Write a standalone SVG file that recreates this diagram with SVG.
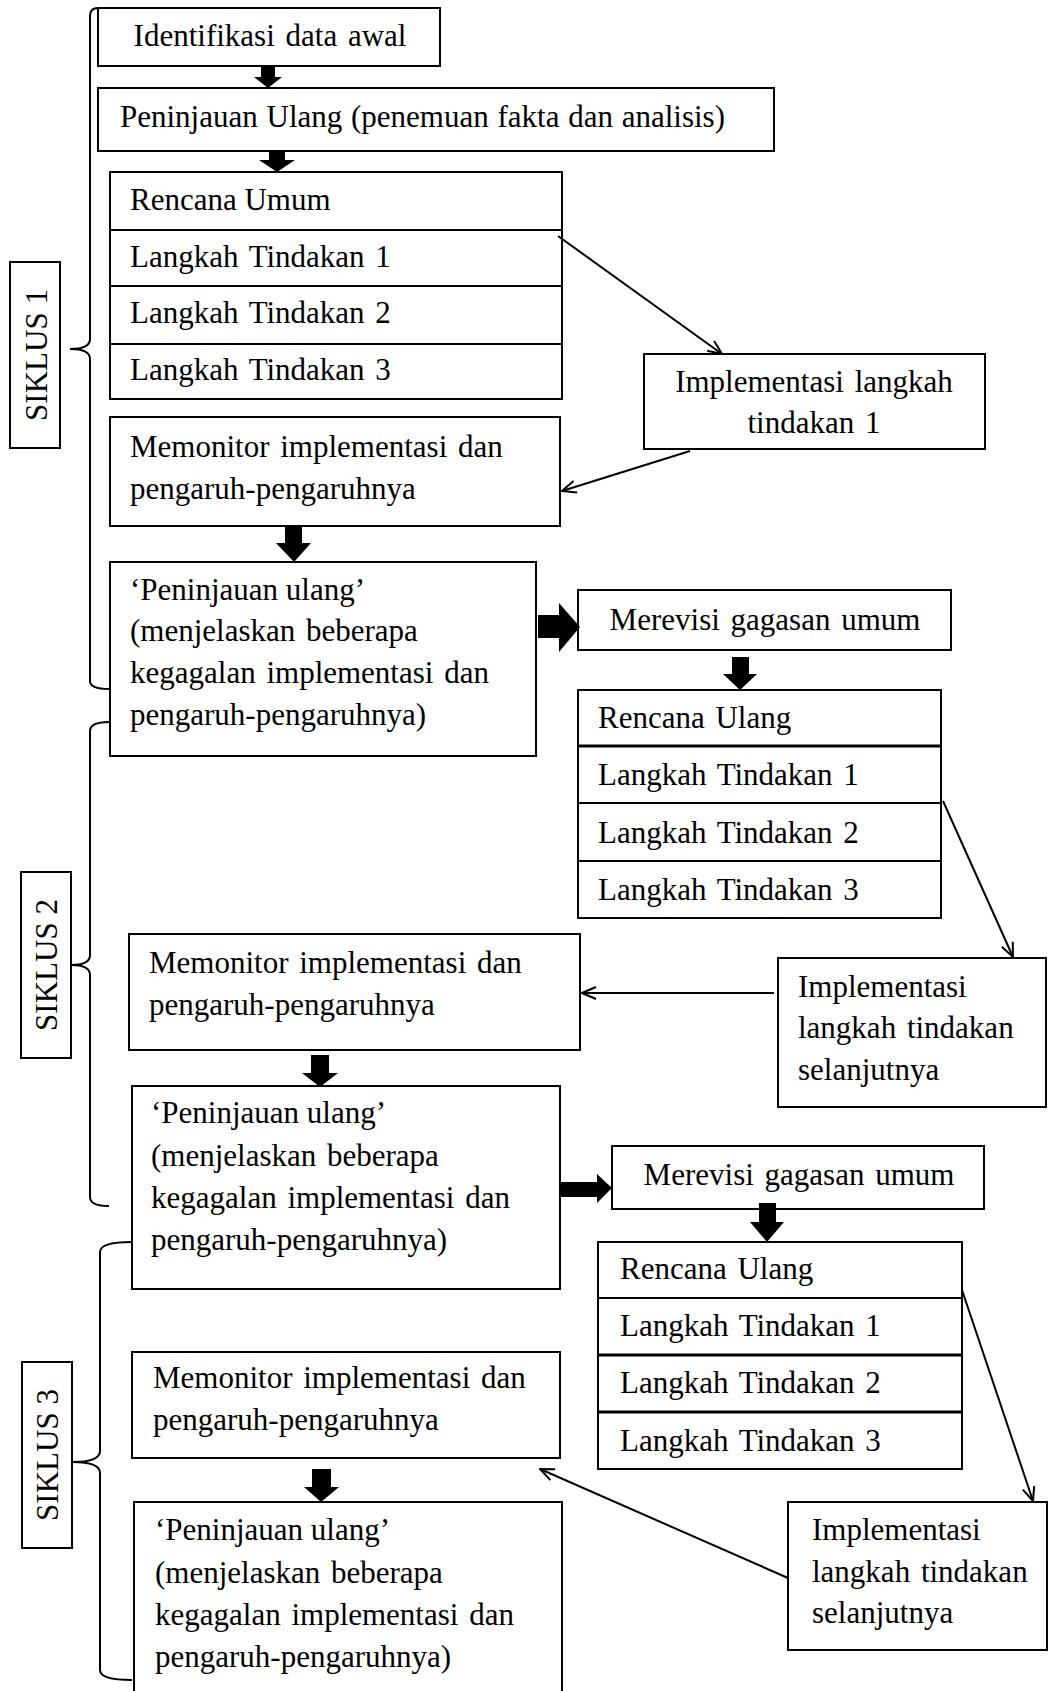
<svg xmlns="http://www.w3.org/2000/svg" width="1049" height="1691" viewBox="0 0 1049 1691">
<style>
.b{fill:#fff;stroke:#000;stroke-width:2}
.t{font-family:"Liberation Serif","Times New Roman",serif;font-size:31px;fill:#000}
.w{word-spacing:3px}
.c{text-anchor:middle}
.ln{stroke:#000;stroke-width:2;fill:none}
.th{stroke:#000;stroke-width:3;fill:none}
.br{stroke:#000;stroke-width:2;fill:none}
.blk{fill:#000;stroke:none}
</style>
<defs>
<marker id="v" viewBox="0 0 16 14" refX="15" refY="7" markerWidth="16" markerHeight="14" markerUnits="userSpaceOnUse" orient="auto">
<path d="M1,1 L15,7 L1,13" fill="none" stroke="#000" stroke-width="2"/>
</marker>
</defs>
<rect width="1049" height="1691" fill="#fff"/>

<g id="siklus1"><rect class="b" x="10" y="262" width="50" height="186"/><text class="t c" transform="translate(47,355) rotate(-90)">SIKLUS 1</text></g>
<g id="siklus2"><rect class="b" x="21" y="872" width="50" height="186"/><text class="t c" transform="translate(57,965) rotate(-90)">SIKLUS 2</text></g>
<g id="siklus3"><rect class="b" x="22" y="1362" width="50" height="186"/><text class="t c" transform="translate(58,1455) rotate(-90)">SIKLUS 3</text></g>

<g id="braces">
<path class="br" d="M98,8 Q90,8 90,16 V339 Q90,349 70,349 Q90,349 90,359 V681 Q90,689 109,689"/>
<path class="br" d="M109,722 Q90,722 90,731 V955 Q90,965 71,965 Q90,965 90,975 V1197 Q90,1206 109,1206"/>
<path class="br" d="M132,1242 Q100,1242 100,1252 V1451 Q100,1462 73,1462 Q100,1462 100,1473 V1670 Q100,1680 132,1680"/>
</g>

<g id="n-identifikasi"><rect class="b" x="98" y="8" width="342" height="58"/><text class="t c w" x="270" y="46">Identifikasi  data awal</text></g>
<g id="n-peninjauan-awal"><rect class="b" x="98" y="88" width="676" height="63"/><text class="t" x="120" y="127" word-spacing="1">Peninjauan Ulang (penemuan fakta dan analisis)</text></g>

<g id="n-rencana-umum">
<rect class="b" x="110" y="172" width="452" height="227"/>
<line class="ln" x1="110" y1="230" x2="562" y2="230"/>
<line class="ln" x1="110" y1="286" x2="562" y2="286"/>
<line class="ln" x1="110" y1="344" x2="562" y2="344"/>
<text class="t" x="130" y="210">Rencana Umum</text>
<text class="t w" x="130" y="267">Langkah Tindakan 1</text>
<text class="t w" x="130" y="323">Langkah Tindakan 2</text>
<text class="t w" x="130" y="380">Langkah Tindakan 3</text>
</g>

<g id="n-impl1"><rect class="b" x="644" y="354" width="341" height="95"/>
<text class="t c w" x="814" y="392">Implementasi langkah</text><text class="t c w" x="814" y="433">tindakan 1</text></g>

<g id="n-monitor1"><rect class="b" x="110" y="417" width="450" height="109"/>
<text class="t w" x="130" y="457">Memonitor implementasi dan</text><text class="t" x="130" y="499">pengaruh-pengaruhnya</text></g>

<g id="n-review1"><rect class="b" x="110" y="562" width="426" height="194"/>
<text class="t" x="130" y="600">‘Peninjauan ulang’</text>
<text class="t w" x="130" y="641">(menjelaskan beberapa</text>
<text class="t w" x="130" y="683">kegagalan implementasi dan</text>
<text class="t" x="130" y="725">pengaruh-pengaruhnya)</text></g>

<g id="n-revisi1"><rect class="b" x="578" y="590" width="373" height="60"/><text class="t c w" x="765" y="630">Merevisi gagasan umum</text></g>

<g id="n-rencana-ulang1">
<rect class="b" x="578" y="690" width="363" height="228"/>
<line class="th" x1="578" y1="746" x2="941" y2="746"/>
<line class="ln" x1="578" y1="803" x2="941" y2="803"/>
<line class="ln" x1="578" y1="861" x2="941" y2="861"/>
<text class="t w" x="598" y="728">Rencana Ulang</text>
<text class="t w" x="598" y="785">Langkah Tindakan 1</text>
<text class="t w" x="598" y="843">Langkah Tindakan 2</text>
<text class="t w" x="598" y="900">Langkah Tindakan 3</text>
</g>

<g id="n-impl2"><rect class="b" x="778" y="958" width="268" height="149"/>
<text class="t" x="798" y="997">Implementasi</text><text class="t w" x="798" y="1038">langkah tindakan</text><text class="t" x="798" y="1080">selanjutnya</text></g>

<g id="n-monitor2"><rect class="b" x="129" y="934" width="451" height="116"/>
<text class="t w" x="149" y="973">Memonitor implementasi dan</text><text class="t" x="149" y="1015">pengaruh-pengaruhnya</text></g>

<g id="n-review2"><rect class="b" x="132" y="1086" width="428" height="203"/>
<text class="t" x="151" y="1123">‘Peninjauan ulang’</text>
<text class="t w" x="151" y="1166">(menjelaskan beberapa</text>
<text class="t w" x="151" y="1208">kegagalan implementasi dan</text>
<text class="t" x="151" y="1250">pengaruh-pengaruhnya)</text></g>

<g id="n-revisi2"><rect class="b" x="612" y="1146" width="372" height="63"/><text class="t c w" x="799" y="1185">Merevisi gagasan umum</text></g>

<g id="n-rencana-ulang2">
<rect class="b" x="598" y="1242" width="364" height="227"/>
<line class="ln" x1="598" y1="1298" x2="962" y2="1298"/>
<line class="th" x1="598" y1="1355" x2="962" y2="1355"/>
<line class="th" x1="598" y1="1412" x2="962" y2="1412"/>
<text class="t w" x="620" y="1279">Rencana Ulang</text>
<text class="t w" x="620" y="1336">Langkah Tindakan 1</text>
<text class="t w" x="620" y="1393">Langkah Tindakan 2</text>
<text class="t w" x="620" y="1451">Langkah Tindakan 3</text>
</g>

<g id="n-impl3"><rect class="b" x="788" y="1502" width="259" height="148"/>
<text class="t" x="812" y="1540">Implementasi</text><text class="t w" x="812" y="1582">langkah tindakan</text><text class="t" x="812" y="1623">selanjutnya</text></g>

<g id="n-monitor3"><rect class="b" x="132" y="1352" width="428" height="106"/>
<text class="t w" x="153" y="1388">Memonitor implementasi dan</text><text class="t" x="153" y="1430">pengaruh-pengaruhnya</text></g>

<g id="n-review3"><rect class="b" x="134" y="1502" width="428" height="200"/>
<text class="t" x="155" y="1540">‘Peninjauan ulang’</text>
<text class="t w" x="155" y="1583">(menjelaskan beberapa</text>
<text class="t w" x="155" y="1625">kegagalan implementasi dan</text>
<text class="t" x="155" y="1667">pengaruh-pengaruhnya)</text></g>

<g id="connectors">
<rect class="blk" x="261" y="66" width="14" height="12"/><polygon class="blk" points="254,77 282,77 268,88"/>
<rect class="blk" x="269" y="151" width="16" height="10"/><polygon class="blk" points="259,160 295,160 277,172"/>
<rect class="blk" x="285" y="526" width="17" height="18"/><polygon class="blk" points="276,543 311,543 294,562"/>
<rect class="blk" x="732" y="657" width="17" height="18"/><polygon class="blk" points="723,674 757,674 740,690"/>
<rect class="blk" x="311" y="1055" width="18" height="19"/><polygon class="blk" points="302,1073 338,1073 320,1087"/>
<rect class="blk" x="759" y="1203" width="17" height="20"/><polygon class="blk" points="750,1222 784,1222 767,1242"/>
<rect class="blk" x="312" y="1469" width="19" height="19"/><polygon class="blk" points="304,1487 339,1487 321,1502"/>
<rect class="blk" x="538" y="615" width="22" height="23"/><polygon class="blk" points="559,603 559,652 580,627"/>
<rect class="blk" x="560" y="1182" width="38" height="15"/><polygon class="blk" points="597,1174 597,1203 612,1188"/>
<line class="ln" x1="558" y1="236" x2="722" y2="354" marker-end="url(#v)"/>
<line class="ln" x1="690" y1="451" x2="562" y2="491" marker-end="url(#v)"/>
<line class="ln" x1="943" y1="801" x2="1013" y2="957" marker-end="url(#v)"/>
<line class="ln" x1="774" y1="993" x2="582" y2="993" marker-end="url(#v)"/>
<line class="ln" x1="962" y1="1290" x2="1033" y2="1501" marker-end="url(#v)"/>
<line class="ln" x1="788" y1="1578" x2="540" y2="1469" marker-end="url(#v)"/>
</g>
</svg>
